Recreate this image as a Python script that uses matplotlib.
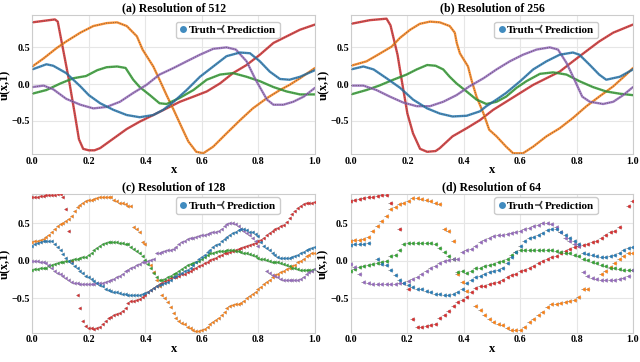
import numpy as np
import matplotlib
matplotlib.use("Agg")
import matplotlib.pyplot as plt
from matplotlib.lines import Line2D

plt.rcParams.update({
    'font.family': ['Liberation Serif', 'DejaVu Serif'],
    'font.weight': 'bold',
    'axes.titleweight': 'bold',
    'axes.labelweight': 'bold',
    'axes.edgecolor': '#cccccc',
    'axes.linewidth': 0.8,
    'xtick.major.size': 0, 'ytick.major.size': 0,
    'xtick.major.pad': 2, 'ytick.major.pad': 1.5,
    'xtick.labelsize': 7.2, 'ytick.labelsize': 7.2,
    'xtick.color': 'black', 'ytick.color': 'black',
})

BLUE, ORANGE, GREEN, RED, PURPLE = '#1f77b4', '#ff7f0e', '#2ca02c', '#d62728', '#9467bd'
PRED_CLR = '#6e6e6e'

TITLES = ["(a) Resolution of 512", "(b) Resolution of 256",
          "(c) Resolution of 128", "(d) Resolution of 64"]

# ── panel (a): dense curves, read as key points ─────────
A_RED_X = [0, 0.04, 0.08, 0.09, 0.11, 0.13, 0.15, 0.165, 0.18, 0.2, 0.22, 0.24, 0.287, 0.334,
           0.38, 0.428, 0.475, 0.522, 0.57, 0.617, 0.664, 0.71, 0.758, 0.805, 0.853, 0.9, 0.947, 1.0]
A_RED_Y = [0.84, 0.86, 0.88, 0.85, 0.45, 0.05, -0.4, -0.75, -0.88, -0.9, -0.9, -0.87, -0.74, -0.61,
           -0.51, -0.42, -0.33, -0.24, -0.17, -0.1, 0.01, 0.15, 0.26, 0.4, 0.56, 0.65, 0.74, 0.81]
A_ORANGE_X = [0, 0.04, 0.086, 0.12, 0.17, 0.216, 0.263, 0.3, 0.334, 0.37, 0.39, 0.428, 0.45, 0.475,
              0.5, 0.53, 0.552, 0.58, 0.605, 0.64, 0.687, 0.735, 0.78, 0.83, 0.876, 0.91, 0.947, 1.0]
A_ORANGE_Y = [0.24, 0.35, 0.49, 0.58, 0.7, 0.79, 0.83, 0.84, 0.79, 0.65, 0.47, 0.24, 0.06, -0.15,
              -0.35, -0.6, -0.78, -0.92, -0.94, -0.85, -0.67, -0.49, -0.33, -0.19, -0.08, -0.01, 0.08, 0.22]
A_BLUE_X = [0, 0.05, 0.074, 0.12, 0.17, 0.2, 0.24, 0.287, 0.334, 0.38, 0.428, 0.463, 0.5, 0.546,
            0.593, 0.64, 0.687, 0.735, 0.77, 0.805, 0.84, 0.876, 0.91, 0.947, 1.0]
A_BLUE_Y = [0.2, 0.27, 0.25, 0.15, -0.03, -0.15, -0.26, -0.35, -0.42, -0.45, -0.42, -0.35, -0.24, -0.08,
            0.1, 0.24, 0.38, 0.43, 0.42, 0.31, 0.17, 0.07, 0.06, 0.1, 0.19]
A_GREEN_X = [0, 0.05, 0.1, 0.145, 0.19, 0.23, 0.263, 0.3, 0.33, 0.357, 0.38, 0.416, 0.45, 0.475,
             0.52, 0.57, 0.617, 0.664, 0.71, 0.758, 0.805, 0.853, 0.9, 0.947, 1.0]
A_GREEN_Y = [-0.13, -0.08, 0.01, 0.08, 0.11, 0.19, 0.23, 0.24, 0.22, 0.06, -0.04, -0.15, -0.26, -0.27,
             -0.19, -0.08, 0.06, 0.13, 0.15, 0.1, 0.04, -0.04, -0.1, -0.14, -0.14]
A_PURPLE_X = [0, 0.04, 0.074, 0.12, 0.17, 0.216, 0.263, 0.31, 0.357, 0.404, 0.45, 0.5, 0.546, 0.593,
              0.64, 0.687, 0.72, 0.758, 0.79, 0.83, 0.853, 0.888, 0.923, 0.96, 1.0]
A_PURPLE_Y = [-0.04, -0.02, -0.07, -0.2, -0.28, -0.33, -0.31, -0.24, -0.12, -0.01, 0.13, 0.22, 0.31, 0.4,
              0.48, 0.5, 0.47, 0.31, 0.06, -0.21, -0.28, -0.28, -0.24, -0.17, -0.05]

# ── panel (b) ──────────────────────────────────────────
B_RED_X = [0, 0.067, 0.126, 0.14, 0.165, 0.18, 0.2, 0.22, 0.245, 0.27, 0.3, 0.315, 0.36, 0.41,
           0.457, 0.504, 0.55, 0.6, 0.646, 0.693, 0.74, 0.787, 0.835, 0.88, 0.93, 1.0]
B_RED_Y = [0.82, 0.87, 0.89, 0.8, 0.4, 0.05, -0.4, -0.67, -0.88, -0.92, -0.91, -0.87, -0.71, -0.6,
           -0.49, -0.35, -0.24, -0.12, -0.01, 0.08, 0.17, 0.31, 0.45, 0.58, 0.7, 0.81]
B_ORANGE_X = [0, 0.055, 0.1, 0.144, 0.174, 0.21, 0.244, 0.28, 0.315, 0.35, 0.368, 0.375, 0.386, 0.415,
              0.427, 0.445, 0.47, 0.49, 0.516, 0.55, 0.575, 0.61, 0.646, 0.693, 0.74, 0.787, 0.835,
              0.88, 0.93, 0.976, 1.0]
B_ORANGE_Y = [0.25, 0.31, 0.41, 0.51, 0.63, 0.74, 0.82, 0.85, 0.84, 0.79, 0.7, 0.56, 0.42, 0.24,
              0.06, -0.17, -0.4, -0.62, -0.71, -0.85, -0.94, -0.94, -0.85, -0.71, -0.6, -0.46, -0.3,
              -0.17, -0.03, 0.13, 0.22]
B_BLUE_X = [0, 0.044, 0.08, 0.126, 0.174, 0.22, 0.27, 0.315, 0.36, 0.41, 0.457, 0.48, 0.516, 0.55,
            0.6, 0.646, 0.693, 0.74, 0.787, 0.81, 0.847, 0.88, 0.905, 0.953, 1.0]
B_BLUE_Y = [0.2, 0.24, 0.2, 0.08, -0.05, -0.21, -0.33, -0.4, -0.44, -0.43, -0.37, -0.3, -0.21, -0.12,
            0.04, 0.2, 0.31, 0.4, 0.43, 0.4, 0.26, 0.13, 0.06, 0.1, 0.2]
B_GREEN_X = [0, 0.055, 0.1, 0.15, 0.197, 0.233, 0.27, 0.3, 0.327, 0.35, 0.374, 0.41, 0.445, 0.48,
             0.516, 0.55, 0.587, 0.622, 0.67, 0.717, 0.764, 0.81, 0.858, 0.905, 0.953, 1.0]
B_GREEN_Y = [-0.14, -0.08, -0.02, 0.06, 0.13, 0.2, 0.26, 0.25, 0.2, 0.1, 0.01, -0.1, -0.21, -0.27,
             -0.24, -0.17, -0.05, 0.04, 0.14, 0.16, 0.13, 0.04, -0.04, -0.1, -0.13, -0.15]
B_PURPLE_X = [0, 0.044, 0.09, 0.138, 0.185, 0.233, 0.28, 0.327, 0.374, 0.42, 0.47, 0.516, 0.563, 0.61,
              0.658, 0.705, 0.734, 0.764, 0.79, 0.82, 0.847, 0.894, 0.93, 0.965, 1.0]
B_PURPLE_Y = [-0.02, -0.02, -0.08, -0.17, -0.25, -0.3, -0.3, -0.24, -0.15, -0.03, 0.08, 0.2, 0.31, 0.4,
              0.47, 0.5, 0.47, 0.29, 0.08, -0.17, -0.24, -0.27, -0.24, -0.15, -0.04]

# ── panel (c): values on a 0.01 grid ────────────────────
nan = np.nan
C_RED = [0.85, 0.855, 0.86, 0.865, 0.87, 0.875, 0.88, 0.88, 0.885, 0.89,
         0.89, 0.85, 0.70, 0.40, 0.00, nan, -0.45, -0.63, -0.80, -0.87,
         -0.90, -0.90, -0.91, -0.90, -0.89, -0.85, -0.80, -0.77, -0.75, -0.72,
         -0.71, -0.69, -0.67, -0.63, -0.56, -0.54, -0.53, -0.52, -0.51, -0.48,
         -0.45, -0.42, -0.39, -0.36, -0.33, -0.31, -0.29, -0.27, -0.25, -0.23,
         -0.22, -0.21, -0.20, -0.18, -0.17, -0.15, -0.13, -0.11, -0.09, -0.07,
         -0.05, -0.03, -0.01, 0.01, 0.02, 0.04, 0.06, 0.08, 0.10, 0.11,
         0.12, 0.13, 0.15, 0.16, 0.17, 0.18, 0.20, 0.21, 0.22, 0.24,
         0.26, 0.28, 0.30, 0.34, 0.37, 0.40, 0.42, 0.44, 0.46, 0.48,
         0.52, 0.57, 0.62, 0.67, 0.71, 0.74, 0.76, 0.77, 0.78, 0.78,
         0.79]
C_ORANGE = [0.25, 0.26, 0.27, 0.28, 0.29, 0.32, 0.35, 0.38, 0.42, 0.46,
            0.49, 0.51, 0.53, 0.56, 0.60, 0.67, 0.72, 0.75, 0.78, 0.80,
            0.81, 0.82, 0.83, 0.84, 0.85, 0.86, 0.86, 0.86, 0.85, 0.82,
            0.80, 0.78, 0.77, 0.76, 0.74, 0.73, 0.45, 0.42, 0.38, 0.25,
            0.22, nan, -0.05, -0.15, -0.25, -0.33, -0.45, -0.50, -0.55, -0.62,
            -0.70, -0.76, -0.80, -0.83, -0.85, -0.88, -0.90, -0.92, -0.94, -0.94,
            -0.93, -0.91, -0.88, -0.85, -0.82, -0.79, -0.76, -0.72, -0.68, -0.63,
            -0.60, -0.59, -0.58, -0.58, -0.56, -0.53, -0.50, -0.47, -0.44, -0.41,
            -0.38, -0.35, -0.31, -0.28, -0.25, -0.22, -0.19, -0.17, -0.15, -0.13,
            -0.11, -0.09, -0.07, -0.05, -0.02, 0.00, 0.03, 0.06, 0.08, 0.10,
            0.11]
C_BLUE = [0.20, 0.22, 0.24, 0.25, 0.26, 0.27, 0.27, 0.26, 0.23, 0.19,
          0.14, 0.09, 0.04, 0.00, -0.03, -0.07, -0.10, -0.13, -0.16, -0.20,
          -0.22, -0.24, -0.27, -0.29, -0.32, -0.34, -0.37, -0.39, -0.40, -0.41,
          -0.42, -0.43, -0.44, -0.44, -0.45, -0.45, -0.45, -0.45, -0.45, -0.44,
          -0.43, -0.41, -0.39, -0.36, -0.33, -0.32, -0.31, -0.30, -0.28, -0.25,
          -0.22, -0.20, -0.18, -0.16, -0.14, -0.12, -0.09, -0.05, -0.02, 0.02,
          0.05, 0.08, 0.12, 0.15, 0.18, 0.21, 0.23, 0.26, 0.29, 0.32,
          0.35, 0.37, 0.39, 0.41, 0.42, 0.42, 0.41, 0.39, 0.38, 0.36,
          0.33, 0.25, 0.20, 0.17, 0.14, 0.11, 0.08, 0.05, 0.04, 0.04,
          0.04, 0.04, 0.05, 0.06, 0.08, 0.10, 0.12, 0.14, 0.16, 0.17,
          0.18]
C_GREEN = [-0.12, -0.115, -0.11, -0.10, -0.095, -0.09, -0.07, -0.055, -0.04, -0.03,
           -0.02, -0.01, 0.00, 0.005, 0.01, 0.02, 0.03, 0.04, 0.05, 0.05,
           0.08, 0.11, 0.14, 0.17, 0.20, 0.22, 0.24, 0.25, 0.25, 0.25,
           0.25, 0.24, 0.24, 0.23, 0.22, 0.19, 0.16, 0.13, 0.11, 0.06,
           0.01, -0.04, -0.09, -0.16, -0.21, -0.25, -0.25, -0.24, -0.22, -0.20,
           -0.18, -0.16, -0.14, -0.11, -0.08, -0.06, -0.04, -0.03, -0.01, 0.00,
           0.02, 0.05, 0.08, 0.10, 0.11, 0.12, 0.13, 0.13, 0.13, 0.14,
           0.14, 0.14, 0.13, 0.13, 0.12, 0.11, 0.10, 0.09, 0.08, 0.06,
           0.04, 0.03, 0.02, 0.01, 0.00, -0.01, -0.01, -0.02, -0.03, -0.04,
           -0.06, -0.07, -0.09, -0.10, -0.11, -0.12, -0.12, -0.12, -0.12, -0.12,
           -0.11]
C_PURPLE = [0.00, 0.00, 0.00, -0.01, -0.01, -0.03, -0.06, -0.09, -0.13, -0.16,
            -0.18, -0.20, -0.23, -0.26, -0.28, -0.29, -0.30, -0.31, -0.31, -0.31,
            -0.31, -0.31, -0.31, -0.30, -0.30, -0.29, -0.28, -0.27, -0.26, -0.24,
            -0.22, -0.20, -0.17, -0.14, -0.12, -0.10, -0.08, -0.06, -0.04, -0.02,
            -0.01, 0.00, 0.01, 0.03, 0.10, 0.11, 0.12, 0.13, 0.14, 0.15,
            0.16, 0.19, 0.22, 0.25, 0.27, 0.29, 0.30, 0.31, 0.32, 0.33,
            0.34, 0.35, 0.36, 0.37, 0.38, 0.39, 0.40, 0.43, 0.46, 0.49,
            0.50, 0.50, 0.49, 0.46, 0.42, 0.40, 0.37, 0.34, 0.31, 0.26,
            0.20, nan, nan, -0.13, -0.16, -0.19, -0.20, -0.22, -0.24, -0.25,
            -0.25, -0.25, -0.25, -0.25, -0.25, -0.24, -0.22, -0.18, -0.15, -0.13,
            -0.11]

# ── panel (d): 64 grid points ───────────────────────────
D_RED = [0.80, 0.82, 0.83, 0.84, 0.85, 0.86, 0.87, 0.88,
         0.88, 0.78, nan, 0.42, nan, -0.37, -0.78, -0.88,
         -0.88, -0.87, -0.86, -0.85, -0.76, -0.72, -0.67, -0.60,
         -0.55, -0.52, -0.48, -0.42, -0.36, -0.34, -0.33, -0.31,
         -0.30, -0.28, -0.26, -0.22, -0.19, -0.18, -0.14, -0.12,
         -0.10, -0.07, -0.03, 0.00, 0.03, 0.05, 0.07, 0.10,
         0.13, 0.16, 0.18, 0.20, 0.21, 0.22, 0.25, 0.27,
         0.31, 0.35, 0.38, 0.40, 0.45, nan, 0.74, 0.80]
D_ORANGE = [0.27, 0.28, 0.28, 0.29, 0.32, 0.40, 0.46, 0.53,
            0.60, 0.69, 0.72, 0.76, 0.78, 0.80, 0.84, 0.84,
            0.83, 0.82, 0.80, 0.78, 0.76, 0.42, 0.40, 0.26,
            -0.17, -0.28, -0.40, nan, -0.60, -0.66, -0.72, -0.78,
            -0.82, -0.85, -0.86, -0.90, -0.92, -0.93, -0.92, -0.88,
            -0.82, -0.78, -0.73, -0.68, -0.62, -0.58, -0.57, -0.56,
            -0.55, -0.54, -0.52, -0.48, -0.38, -0.37, nan, nan,
            -0.18, -0.14, -0.08, -0.03, 0.02, 0.06, 0.10, 0.11]
D_BLUE = [0.21, 0.22, 0.22, 0.23, 0.24, nan, 0.02, -0.04,
          -0.06, -0.12, -0.19, -0.25, -0.29, -0.32, -0.35, -0.37,
          -0.38, -0.40, -0.42, -0.44, -0.44, -0.45, -0.45, -0.44,
          -0.42, -0.37, -0.30, -0.25, -0.22, -0.20, -0.17, -0.15,
          -0.14, -0.12, -0.09, -0.03, 0.05, 0.12, 0.20, 0.27,
          0.30, 0.32, 0.34, 0.37, 0.41, 0.43, 0.42, 0.38,
          0.34, 0.30, 0.26, 0.22, 0.10, 0.09, 0.08, 0.06,
          0.05, 0.05, 0.06, 0.08, 0.10, 0.14, 0.17, 0.18]
D_GREEN = [-0.13, -0.11, -0.08, -0.07, -0.05, -0.04, -0.03, -0.02,
           0.00, 0.06, 0.08, 0.14, 0.23, 0.24, 0.24, 0.24,
           0.24, 0.24, 0.24, 0.23, 0.17, 0.12, 0.06, 0.02,
           -0.15, -0.13, -0.16, -0.14, -0.10, -0.09, -0.07, -0.06,
           -0.04, -0.02, 0.00, 0.03, 0.08, 0.12, 0.14, 0.15,
           0.15, 0.15, 0.15, 0.14, 0.14, 0.14, 0.13, 0.12,
           0.11, 0.10, 0.08, 0.06, 0.03, 0.01, -0.01, -0.03,
           -0.05, -0.07, -0.09, -0.10, -0.11, -0.12, -0.12, -0.12]
D_PURPLE = [-0.04, -0.08, -0.17, -0.28, -0.30, -0.31, -0.31, -0.31,
            -0.31, -0.31, -0.31, -0.30, -0.29, -0.27, -0.24, -0.21,
            -0.17, -0.14, -0.10, -0.07, -0.03, 0.00, 0.01, 0.02,
            0.03, 0.12, 0.14, 0.16, 0.20, 0.25, 0.28, 0.31,
            0.33, 0.34, 0.35, 0.36, 0.37, 0.38, 0.40, 0.42,
            0.44, 0.46, 0.48, 0.50, 0.50, 0.49, 0.45, 0.38,
            0.30, 0.26, 0.22, 0.20, -0.15, -0.20, -0.23, -0.24,
            -0.25, -0.25, -0.25, -0.25, -0.24, -0.23, -0.20, -0.12]

C_X = np.linspace(0, 1, len(C_RED))
D_X = np.linspace(0, 1, len(D_RED))


def style_ax(ax, title, ylim):
    ax.set_xlim(0, 1)
    ax.set_ylim(*ylim)
    ax.set_xticks([0.0, 0.2, 0.4, 0.6, 0.8, 1.0])
    ax.set_yticks([-0.5, 0.0, 0.5])
    ax.grid(True, color='#e6e6e6', lw=0.8, zorder=0)
    ax.set_axisbelow(True)
    ax.set_title(title, fontsize=8.5, pad=3)
    ax.set_xlabel('x', fontsize=9, labelpad=-1)
    ax.set_ylabel('u(x,1)', fontsize=8.8, labelpad=0.5)


def add_legend(ax, top):
    hs = [Line2D([], [], ls='', marker='o', color=BLUE, alpha=0.85, ms=5, mew=0, label='Truth'),
          Line2D([], [], ls='', marker='3', color='#444444', ms=7, mew=1.1, label='Prediction')]
    ax.legend(handles=hs, ncol=2, loc='upper right', bbox_to_anchor=(0.875, top),
              fontsize=8, handlelength=0.7, handletextpad=0.1, columnspacing=0.2,
              borderpad=0.3, borderaxespad=0, frameon=True, fancybox=True,
              edgecolor='#cccccc', framealpha=1)


def draw_lines(ax, curves):
    for xs, ys, c in curves:
        ax.plot(xs, ys, color=c, lw=1.7, alpha=0.85, solid_capstyle='round', zorder=2)
        ax.plot(xs, ys, color='#555555', lw=0.7, ls=(0, (1, 1.4)), alpha=0.8, zorder=3)


def draw_points(ax, xs, curves, ms_t, ms_p):
    for ys, c in curves:
        ax.plot(xs, ys, ls='', marker='3', color=PRED_CLR, ms=ms_p, mew=0.6, alpha=0.8, zorder=2)
        ax.plot(xs, ys, ls='', marker='o', color=c, ms=ms_t, mew=0, alpha=0.85, zorder=3)


fig = plt.figure(figsize=(6.4, 3.62), dpi=100)
W, H = 640, 362
def box(l, r, t, b):
    return [l / W, 1 - b / H, (r - l) / W, (b - t) / H]

ax_a = fig.add_axes(box(32.3, 315, 15, 154))
ax_b = fig.add_axes(box(351, 633, 15, 154))
ax_c = fig.add_axes(box(32.3, 315, 194.3, 332.7))
ax_d = fig.add_axes(box(350.7, 633, 194.3, 332.7))

draw_lines(ax_a, [(A_RED_X, A_RED_Y, RED), (A_ORANGE_X, A_ORANGE_Y, ORANGE),
                  (A_GREEN_X, A_GREEN_Y, GREEN), (A_PURPLE_X, A_PURPLE_Y, PURPLE),
                  (A_BLUE_X, A_BLUE_Y, BLUE)])
draw_lines(ax_b, [(B_RED_X, B_RED_Y, RED), (B_ORANGE_X, B_ORANGE_Y, ORANGE),
                  (B_GREEN_X, B_GREEN_Y, GREEN), (B_PURPLE_X, B_PURPLE_Y, PURPLE),
                  (B_BLUE_X, B_BLUE_Y, BLUE)])
draw_points(ax_c, C_X, [(C_RED, RED), (C_ORANGE, ORANGE), (C_GREEN, GREEN),
                        (C_PURPLE, PURPLE), (C_BLUE, BLUE)], 2.0, 3.2)
draw_points(ax_d, D_X, [(D_RED, RED), (D_ORANGE, ORANGE), (D_GREEN, GREEN),
                        (D_PURPLE, PURPLE), (D_BLUE, BLUE)], 2.4, 3.8)

for ax, t in zip([ax_a, ax_b], TITLES[:2]):
    style_ax(ax, t, (-0.95, 0.94))
    add_legend(ax, 0.95)
for ax, t in zip([ax_c, ax_d], TITLES[2:]):
    style_ax(ax, t, (-0.96, 0.89))
    add_legend(ax, 0.977)

fig.savefig('out.png', dpi=100)
